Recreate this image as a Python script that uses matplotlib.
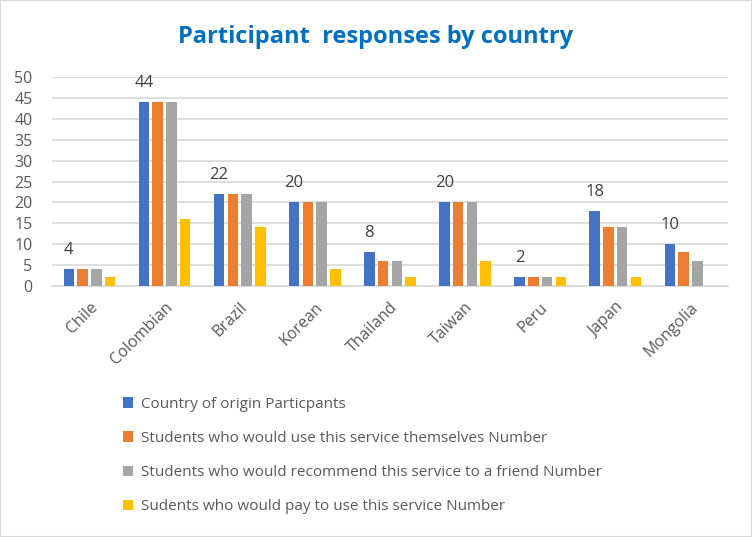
import matplotlib
matplotlib.use("Agg")
import matplotlib.pyplot as plt
import numpy as np
from matplotlib.patches import Rectangle

categories = ["Chile", "Colombian", "Brazil", "Korean", "Thailand", "Taiwan", "Peru", "Japan", "Mongolia"]
origin = [4, 44, 22, 20, 8, 20, 2, 18, 10]
use_self = [4, 44, 22, 20, 6, 20, 2, 14, 8]
recommend = [4, 44, 22, 20, 6, 20, 2, 14, 6]
pay = [2, 16, 14, 4, 2, 6, 2, 2, 0]
series_names = ["Country of origin Particpants",
                "Students who would use this service themselves Number",
                "Students who would recommend this service to a friend Number",
                "Sudents who would pay to use this service Number"]
colors = ["#4472C4", "#ED7D31", "#A5A5A5", "#FFC000"]
yticks = [0, 5, 10, 15, 20, 25, 30, 35, 40, 45, 50]

plt.rcParams['font.family'] = ['Open Sans', 'DejaVu Sans']

fig = plt.figure(figsize=(7.52, 5.37), dpi=100)
fig.patches.append(Rectangle((0, 0), 1, 1, transform=fig.transFigure, fill=False,
                             edgecolor="#D9D9D9", linewidth=1.5))
ax = fig.add_axes([0.069, 0.468, 0.899, 0.388])

x = np.arange(len(categories))
slot = 0.183
bw = 0.14
all_series = [origin, use_self, recommend, pay]
handles = []
for i, (vals, c, name) in enumerate(zip(all_series, colors, series_names)):
    vals = np.array(vals, dtype=float)
    pos = x + (i - 1.5) * slot
    mask = vals > 0 if i == 3 else np.ones_like(vals, dtype=bool)
    h = ax.bar(pos[mask], vals[mask], width=bw, color=c, label=name, zorder=3)
    handles.append(h)
    if i == 0:
        for p, v in zip(pos, vals):
            ax.annotate(f"{int(v)}", (p, v), xytext=(0, 8), textcoords="offset points",
                        ha="center", va="bottom", fontsize=12, color="#404040")

ax.set_xlim(-0.5, len(categories) - 0.5)
ax.set_ylim(0, 50)
ax.set_yticks(yticks)
ax.set_yticklabels([str(t) for t in yticks], fontsize=11.5, color="#595959")
ax.set_xticks(x)
ax.set_xticklabels(categories, rotation=45, ha="right", rotation_mode="anchor",
                   fontsize=11.5, color="#595959")
ax.tick_params(axis="both", length=0)
ax.tick_params(axis="y", pad=14)
ax.tick_params(axis="x", pad=10)
ax.grid(axis="y", color="#D9D9D9", linewidth=1.2, zorder=0)
for s in ["top", "right", "left"]:
    ax.spines[s].set_visible(False)
ax.spines["bottom"].set_color("#D9D9D9")
ax.spines["bottom"].set_linewidth(1.2)

fig.text(0.5, 0.931, "Participant  responses by country", ha="center", va="center",
         fontsize=17, fontweight="bold", color="#0070C0")

leg = fig.legend(handles=handles, loc="upper left", bbox_to_anchor=(0.155, 0.272),
                 ncol=1, frameon=False, fontsize=11, handlelength=0.7, handleheight=0.7,
                 handletextpad=0.5, labelspacing=1.25, borderaxespad=0)
for t in leg.get_texts():
    t.set_color("#595959")

fig.savefig("out.png", dpi=100)
